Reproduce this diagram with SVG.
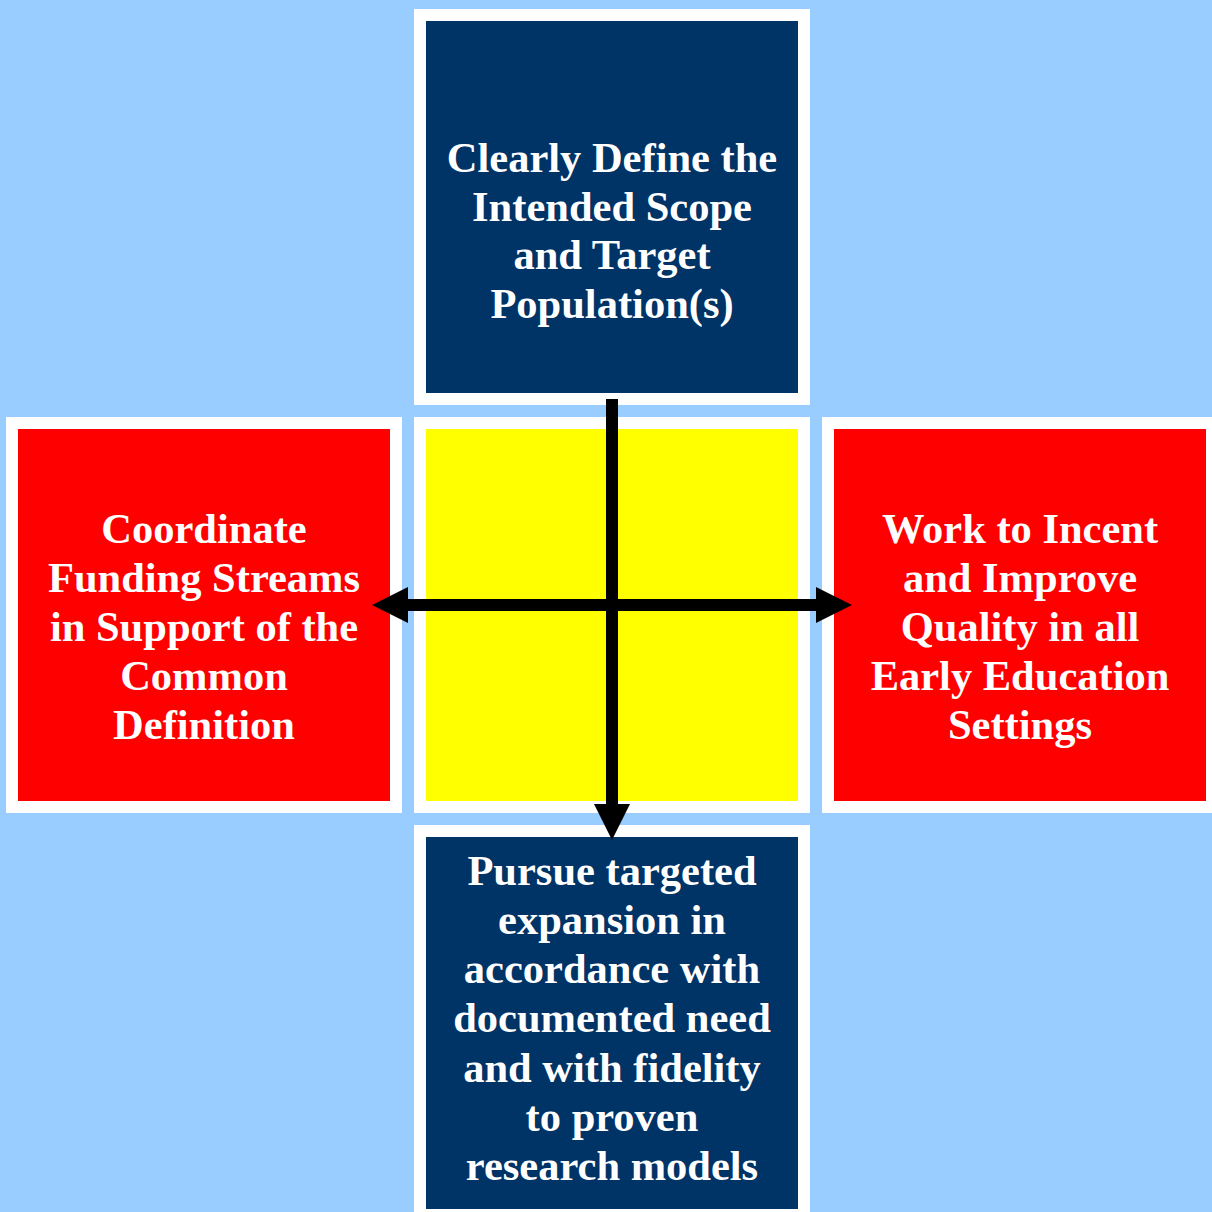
<svg xmlns="http://www.w3.org/2000/svg" width="1212" height="1212" viewBox="0 0 1212 1212">
<style>
.frame{fill:#ffffff}
.navy{fill:#003366}
.red{fill:#ff0000}
.yellow{fill:#ffff00}
.lbl{font-family:"Liberation Serif","Times New Roman",serif;font-weight:bold;font-size:42.5px;fill:#ffffff;text-anchor:middle}
.conn{stroke:#000000;stroke-width:12;fill:none}
.head{fill:#000000}
</style>
<rect x="0" y="0" width="1212" height="1212" fill="#99ccff"/>
<g id="node-top">
<rect class="frame" x="414" y="9" width="396" height="396"/>
<rect class="navy" x="426" y="21" width="372" height="372"/>
<text class="lbl" x="612" y="172">Clearly Define the</text>
<text class="lbl" x="612" y="221">Intended Scope</text>
<text class="lbl" x="612" y="269">and Target</text>
<text class="lbl" x="612" y="318">Population(s)</text>
</g>
<g id="node-center">
<rect class="frame" x="414" y="417" width="396" height="396"/>
<rect class="yellow" x="426" y="429" width="372" height="372"/>
</g>
<g id="node-left">
<rect class="frame" x="6" y="417" width="396" height="396"/>
<rect class="red" x="18" y="429" width="372" height="372"/>
<text class="lbl" x="204" y="543">Coordinate</text>
<text class="lbl" x="204" y="592">Funding Streams</text>
<text class="lbl" x="204" y="641">in Support of the</text>
<text class="lbl" x="204" y="690">Common</text>
<text class="lbl" x="204" y="739">Definition</text>
</g>
<g id="node-right">
<rect class="frame" x="822" y="417" width="396" height="396"/>
<rect class="red" x="834" y="429" width="372" height="372"/>
<text class="lbl" x="1020" y="543">Work to Incent</text>
<text class="lbl" x="1020" y="592">and Improve</text>
<text class="lbl" x="1020" y="641">Quality in all</text>
<text class="lbl" x="1020" y="690">Early Education</text>
<text class="lbl" x="1020" y="739">Settings</text>
</g>
<g id="node-bottom">
<rect class="frame" x="414" y="825" width="396" height="396"/>
<rect class="navy" x="426" y="837" width="372" height="372"/>
<text class="lbl" x="612" y="885">Pursue targeted</text>
<text class="lbl" x="612" y="934">expansion in</text>
<text class="lbl" x="612" y="983">accordance with</text>
<text class="lbl" x="612" y="1032">documented need</text>
<text class="lbl" x="612" y="1082">and with fidelity</text>
<text class="lbl" x="612" y="1131">to proven</text>
<text class="lbl" x="612" y="1180">research models</text>
</g>
<g id="connectors">
<line class="conn" x1="612" y1="399" x2="612" y2="805"/>
<polygon class="head" points="594,804 630,804 612,840"/>
<line class="conn" x1="636" y1="605" x2="407" y2="605"/>
<polygon class="head" points="408,587 408,623 372,605"/>
<line class="conn" x1="607" y1="605" x2="817" y2="605"/>
<polygon class="head" points="816,587 816,623 852,605"/>
</g>
</svg>
